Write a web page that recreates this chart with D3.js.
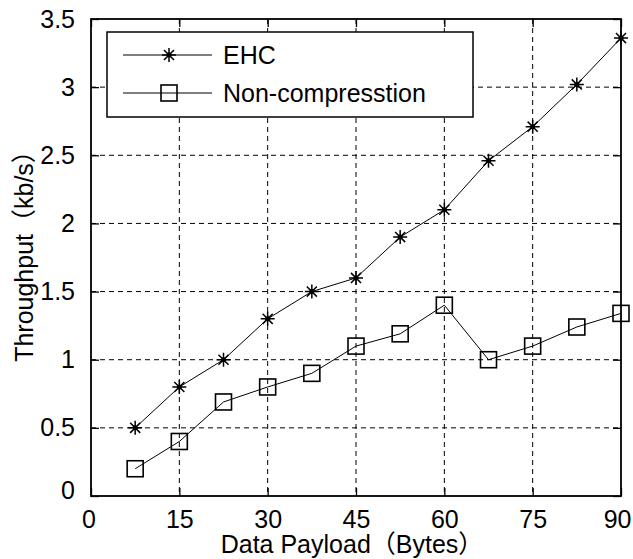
<!DOCTYPE html>
<html>
<head>
<meta charset="utf-8">
<script src="https://cdn.jsdelivr.net/npm/d3@7"></script>
<style>
  body { margin: 0; background: #fff; }
  text { font-family: "Liberation Sans", Arial, "Noto Sans CJK SC", sans-serif; fill: #000; }
</style>
</head>
<body>
<div class="canvas"></div>
<script>
// data
const payload = [7.5, 15, 22.5, 30, 37.5, 45, 52.5, 60, 67.5, 75, 82.5, 90];
const ehc = [0.5, 0.8, 1.0, 1.3, 1.5, 1.6, 1.9, 2.1, 2.46, 2.71, 3.02, 3.36];
const nonComp = [0.2, 0.4, 0.69, 0.8, 0.9, 1.1, 1.19, 1.4, 1.0, 1.1, 1.24, 1.34];
const xTicks = [0, 15, 30, 45, 60, 75, 90];
const yTicks = [0, 0.5, 1, 1.5, 2, 2.5, 3, 3.5];
const seriesNames = ["EHC", "Non-compresstion"];

const dims = {width: 633, height: 559};
const margin = {top: 19, right: 12, bottom: 63, left: 91};
const w = dims.width - margin.left - margin.right;
const h = dims.height - margin.top - margin.bottom;

const svg = d3.select(".canvas").append("svg")
    .attr("width", dims.width)
    .attr("height", dims.height);

const graph = svg.append("g")
    .attr("transform", `translate(${margin.left},${margin.top})`);

const x = d3.scaleLinear().domain([0, 90]).range([0, w]);
const y = d3.scaleLinear().domain([0, 3.5]).range([h, 0]);

// dashed grid
graph.append("g")
    .selectAll("line")
    .data(xTicks.slice(1, -1))
    .join("line")
    .attr("x1", d => x(d)).attr("x2", d => x(d))
    .attr("y1", 0).attr("y2", h)
    .attr("stroke", "#000")
    .attr("stroke-dasharray", "5,4");

graph.append("g")
    .selectAll("line")
    .data(yTicks.slice(1, -1))
    .join("line")
    .attr("y1", d => y(d)).attr("y2", d => y(d))
    .attr("x1", 0).attr("x2", w)
    .attr("stroke", "#000")
    .attr("stroke-dasharray", "5,4");

// axes, ticks pointing inwards on all four sides
const fmt = d => d3.format("")(d);
const bottomAxis = d3.axisBottom(x).tickValues(xTicks).tickSizeInner(-8).tickSizeOuter(0).tickPadding(14).tickFormat(fmt);
const leftAxis = d3.axisLeft(y).tickValues(yTicks).tickSizeInner(-8).tickSizeOuter(0).tickPadding(16).tickFormat(fmt);
const topAxis = d3.axisTop(x).tickValues(xTicks).tickSizeInner(-8).tickSizeOuter(0).tickFormat("");
const rightAxis = d3.axisRight(y).tickValues(yTicks).tickSizeInner(-8).tickSizeOuter(0).tickFormat("");

const gx = graph.append("g").attr("transform", `translate(0,${h})`).call(bottomAxis);
const gy = graph.append("g").call(leftAxis);
graph.append("g").call(topAxis);
graph.append("g").attr("transform", `translate(${w},0)`).call(rightAxis);

graph.selectAll(".domain").remove();
graph.selectAll(".tick line").attr("stroke", "#000").attr("stroke-width", 1.3);
graph.selectAll(".tick text").attr("font-size", 25).attr("font-family", null);

// the y "0" sits a little higher, like matlab does it
gy.selectAll(".tick text").filter(d => d === 0).attr("dy", "0.1em");
gx.selectAll(".tick text").filter(d => d === 0).attr("dx", "-0.1em");
// last x label would run off the page, pull it in
gx.selectAll(".tick text").filter(d => d === 90).attr("text-anchor", "end").attr("dx", "0.4em");

// box
graph.append("rect")
    .attr("width", w).attr("height", h)
    .attr("fill", "none")
    .attr("stroke", "#000")
    .attr("stroke-width", 1.8);

// lines
const line = d3.line()
    .x(d => x(d[0]))
    .y(d => y(d[1]));

const ehcPts = payload.map((p, i) => [p, ehc[i]]);
const nonPts = payload.map((p, i) => [p, nonComp[i]]);

[ehcPts, nonPts].forEach(pts => {
    graph.append("path")
        .datum(pts)
        .attr("d", line)
        .attr("fill", "none")
        .attr("stroke", "#000")
        .attr("stroke-width", 1);
});

// marker drawers
const star = (g, cx, cy) => {
    const r = 7, d = r * 0.72;
    g.append("path")
        .attr("d", `M${cx - r},${cy}H${cx + r}M${cx},${cy - r}V${cy + r}` +
            `M${cx - d},${cy - d}L${cx + d},${cy + d}M${cx - d},${cy + d}L${cx + d},${cy - d}`)
        .attr("stroke", "#000")
        .attr("stroke-width", 1.5)
        .attr("fill", "none");
    g.append("circle")
        .attr("cx", cx).attr("cy", cy).attr("r", 2.5)
        .attr("fill", "#000");
};

const square = (g, cx, cy) => {
    const s = 16;
    g.append("rect")
        .attr("x", cx - s / 2).attr("y", cy - s / 2)
        .attr("width", s).attr("height", s)
        .attr("fill", "none")
        .attr("stroke", "#000")
        .attr("stroke-width", 1.6);
};

ehcPts.forEach(d => star(graph, x(d[0]), y(d[1])));
nonPts.forEach(d => square(graph, x(d[0]), y(d[1])));

// axis labels
svg.append("text")
    .attr("x", 352)
    .attr("y", 553)
    .attr("text-anchor", "middle")
    .attr("font-size", 25)
    .text("Data Payload（Bytes）");

svg.append("text")
    .attr("transform", "translate(33,250) rotate(-90)")
    .attr("text-anchor", "middle")
    .attr("font-size", 25)
    .text("Throughput（kb/s）");

// legend
const legend = svg.append("g");

legend.append("rect")
    .attr("x", 107).attr("y", 32)
    .attr("width", 366).attr("height", 85)
    .attr("fill", "#fff")
    .attr("stroke", "#000")
    .attr("stroke-width", 1.5);

const markers = [star, square];
seriesNames.forEach((name, i) => {
    const ly = 55 + i * 38;
    legend.append("line")
        .attr("x1", 123).attr("x2", 212)
        .attr("y1", ly).attr("y2", ly)
        .attr("stroke", "#000")
        .attr("stroke-width", 1.2);
    markers[i](legend, 169, ly);
    legend.append("text")
        .attr("x", 223)
        .attr("y", ly)
        .attr("dy", "0.36em")
        .attr("font-size", 25)
        .text(name);
});
</script>
</body>
</html>
